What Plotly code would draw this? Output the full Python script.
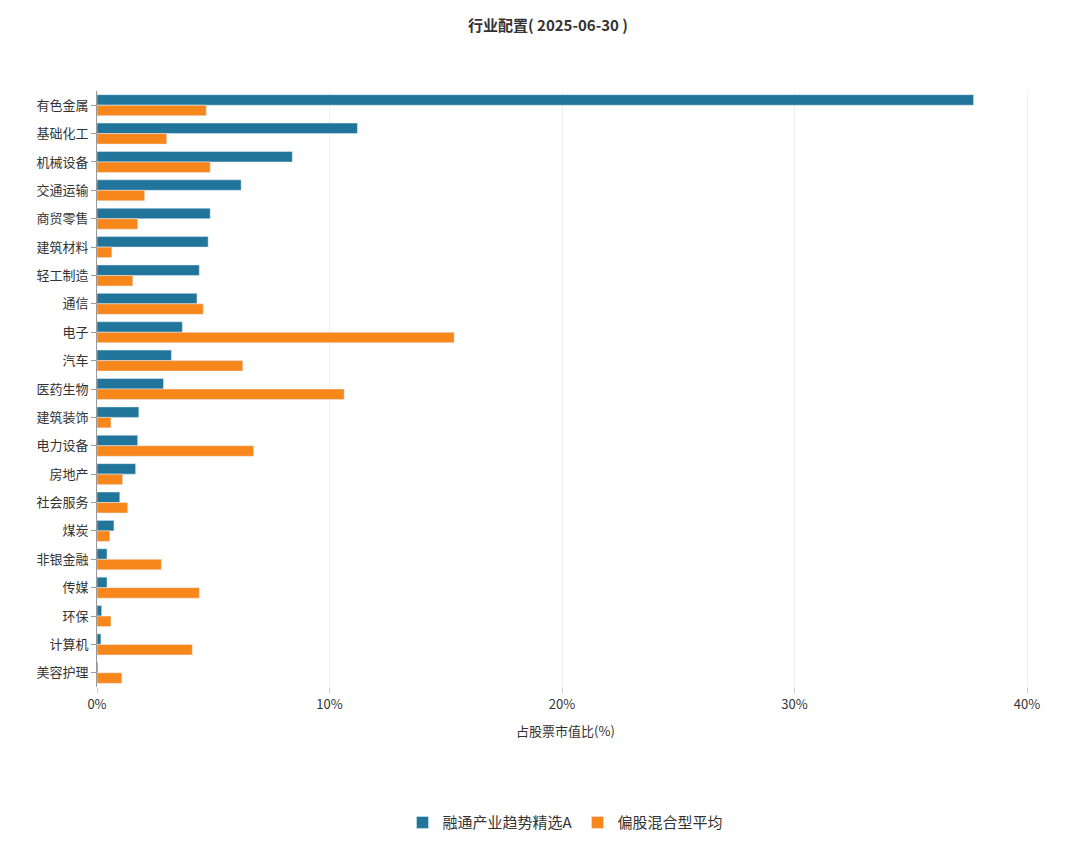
import plotly.graph_objects as go

categories = ["有色金属","基础化工","机械设备","交通运输","商贸零售","建筑材料","轻工制造","通信","电子","汽车","医药生物","建筑装饰","电力设备","房地产","社会服务","煤炭","非银金融","传媒","环保","计算机","美容护理"]
fund = [37.7,11.2,8.4,6.2,4.87,4.78,4.4,4.3,3.67,3.2,2.86,1.8,1.75,1.66,0.98,0.73,0.43,0.43,0.2,0.17,0.04]
avg = [4.7,3.0,4.87,2.05,1.75,0.64,1.54,4.57,15.36,6.27,10.63,0.6,6.74,1.1,1.32,0.55,2.77,4.4,0.6,4.1,1.07]
xticks = [0,10,20,30,40]
xticklabels = ["0%","10%","20%","30%","40%"]

fig = go.Figure()
fig.add_bar(y=categories, x=fund, orientation="h", name="融通产业趋势精选A", marker_color="#21759b")
fig.add_bar(y=categories, x=avg, orientation="h", name="偏股混合型平均", marker_color="#f7861b")
fig.update_layout(
    width=1080, height=843, paper_bgcolor="white", plot_bgcolor="white",
    font=dict(family="Noto Sans CJK SC", size=13, color="#333"),
    title=dict(text="<b>行业配置( 2025-06-30 )</b>", x=0.5, y=0.985, xanchor="center", font=dict(size=15)),
    margin=dict(l=89, r=54, t=83, b=151),
    barmode="group", bargap=0.26, bargroupgap=0,
    legend=dict(orientation="h", x=0.5, xanchor="center", y=-0.2, yanchor="top", font=dict(size=15)),
    xaxis=dict(range=[0,40.3], tickvals=xticks, ticktext=xticklabels, showgrid=True, gridcolor="#eeeeee",
               zeroline=False, title=dict(text="占股票市值比(%)", font=dict(size=13)), ticks="outside", ticklen=5, tickcolor="#ccc"),
    yaxis=dict(autorange="reversed", showline=True, linecolor="#999", ticks="outside", ticklen=5, tickcolor="#999"),
)
fig.write_html("out.html")
